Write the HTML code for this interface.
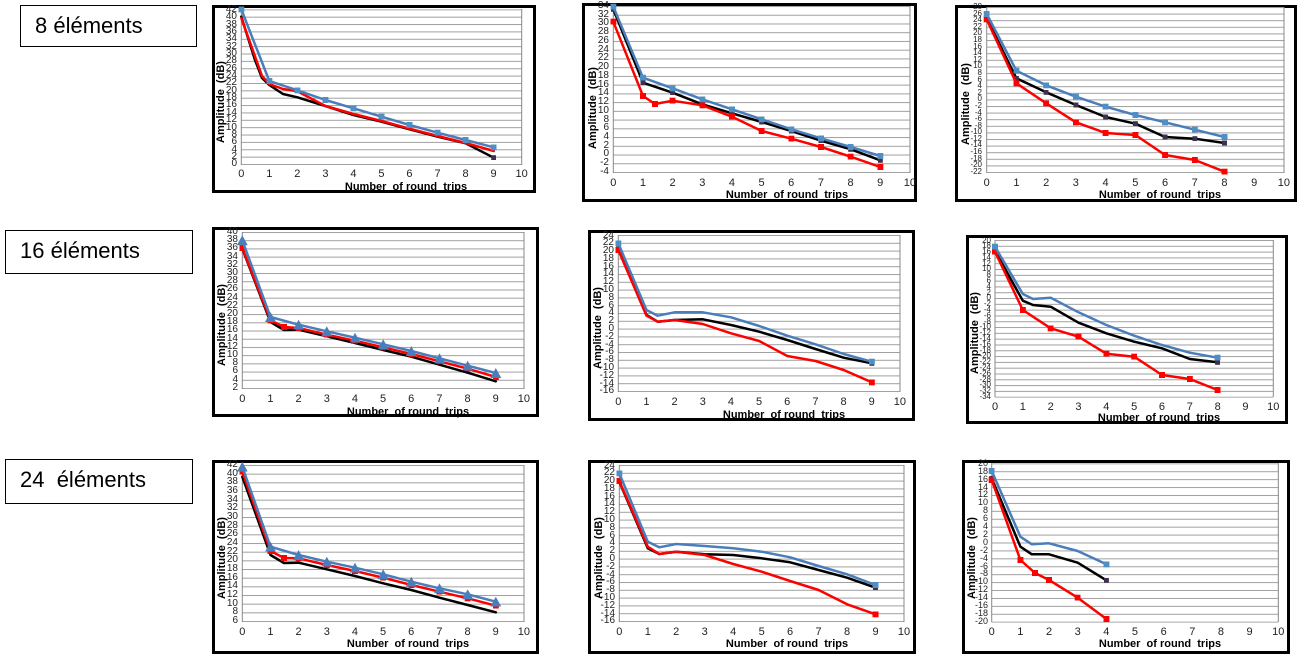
<!DOCTYPE html>
<html><head><meta charset="utf-8"><style>
*{margin:0;padding:0;box-sizing:border-box}
body{width:1300px;height:651px;position:relative;overflow:hidden;background:#fff;font-family:"Liberation Sans",Arial,sans-serif}
.fr{position:absolute;border:3px solid #000}
.lb{position:absolute;border:1.5px solid #000;font-size:22px;line-height:40px;padding-left:14px}
.yl{position:absolute;display:flex;flex-direction:column;justify-content:space-between;text-align:right;font-size:10px;color:#222;width:30px}
.yl span{display:block}
.xl{position:absolute;display:flex;justify-content:space-between;font-size:11px;line-height:12px;color:#222}
.xl span{width:20px;text-align:center}
.xt{position:absolute;width:200px;text-align:center;font-size:11px;font-weight:bold;line-height:12px}
.yt{position:absolute;width:120px;height:14px;line-height:14px;text-align:center;font-size:11px;font-weight:bold;transform:rotate(-90deg)}
svg{position:absolute;left:0;top:0}
</style></head><body>

<div class="lb" style="left:20px;top:5px;width:177px;height:42px">8 éléments</div>
<div class="lb" style="left:5px;top:230px;width:188px;height:44px">16 éléments</div>
<div class="lb" style="left:5px;top:459px;width:188px;height:45px">24&nbsp; éléments</div>

<div class="fr" style="left:212px;top:5px;width:324px;height:188px"></div>
<div class="fr" style="left:582px;top:3px;width:335px;height:199px"></div>
<div class="fr" style="left:955px;top:5px;width:342px;height:197px"></div>
<div class="fr" style="left:212px;top:227px;width:327px;height:190px"></div>
<div class="fr" style="left:588px;top:230px;width:327px;height:191px"></div>
<div class="fr" style="left:966px;top:235px;width:322px;height:189px"></div>
<div class="fr" style="left:212px;top:460px;width:327px;height:194px"></div>
<div class="fr" style="left:588px;top:460px;width:328px;height:194px"></div>
<div class="fr" style="left:962px;top:460px;width:328px;height:194px"></div>

<svg width="1300" height="651" viewBox="0 0 1300 651">
<defs>
<pattern id="p1" patternUnits="userSpaceOnUse" x="0" y="9.3" width="10" height="7.367"><rect width="10" height="1" fill="#a0a0a0"/></pattern>
<pattern id="p2" patternUnits="userSpaceOnUse" x="0" y="6" width="10" height="8.737"><rect width="10" height="1" fill="#a0a0a0"/></pattern>
<pattern id="p3" patternUnits="userSpaceOnUse" x="0" y="7" width="10" height="6.6"><rect width="10" height="1" fill="#a0a0a0"/></pattern>
<pattern id="p4" patternUnits="userSpaceOnUse" x="0" y="232" width="10" height="8.21"><rect width="10" height="1" fill="#a0a0a0"/></pattern>
<pattern id="p5" patternUnits="userSpaceOnUse" x="0" y="235" width="10" height="7.8"><rect width="10" height="1" fill="#a0a0a0"/></pattern>
<pattern id="p6" patternUnits="userSpaceOnUse" x="0" y="240" width="10" height="5.804"><rect width="10" height="1" fill="#a0a0a0"/></pattern>
<pattern id="p7" patternUnits="userSpaceOnUse" x="0" y="465" width="10" height="8.667"><rect width="10" height="1" fill="#a0a0a0"/></pattern>
<pattern id="p8" patternUnits="userSpaceOnUse" x="0" y="465" width="10" height="7.8"><rect width="10" height="1" fill="#a0a0a0"/></pattern>
<pattern id="p9" patternUnits="userSpaceOnUse" x="0" y="463.3" width="10" height="7.92"><rect width="10" height="1" fill="#a0a0a0"/></pattern>
<marker id="mb" markerUnits="userSpaceOnUse" markerWidth="6" markerHeight="6" refX="3" refY="3"><rect width="6" height="6" fill="#4f8fc4"/></marker>
<marker id="mk" markerUnits="userSpaceOnUse" markerWidth="5" markerHeight="5" refX="2.5" refY="2.5"><rect width="5" height="5" fill="#403050"/></marker>
<marker id="mr" markerUnits="userSpaceOnUse" markerWidth="6" markerHeight="6" refX="3" refY="3"><rect width="6" height="6" fill="#ff0000"/></marker>
<marker id="tb" markerUnits="userSpaceOnUse" markerWidth="11" markerHeight="10" refX="5.5" refY="5"><path d="M5.5 0L11 10H0Z" fill="#4a7ebb"/></marker>
</defs>
<rect x="241.3" y="9.3" width="280.4" height="155.7" fill="url(#p1)"/>
<rect x="613.3" y="6" width="296.7" height="167" fill="url(#p2)"/>
<rect x="986.7" y="7" width="297.3" height="166" fill="url(#p3)"/>
<rect x="242.3" y="232" width="281.7" height="157" fill="url(#p4)"/>
<rect x="618.3" y="235" width="281.7" height="157" fill="url(#p5)"/>
<rect x="995" y="240" width="278.3" height="157.7" fill="url(#p6)"/>
<rect x="242.3" y="465" width="281.7" height="157" fill="url(#p7)"/>
<rect x="619.3" y="465" width="284.7" height="157" fill="url(#p8)"/>
<rect x="991.7" y="463.3" width="286.6" height="159.4" fill="url(#p9)"/>
<g stroke="#888" stroke-width="1">
<path d="M241.3 9V165M521.7 9V165"/>
<path d="M613.3 6V173M910 6V173"/>
<path d="M986.7 7V173M1284 7V173"/>
<path d="M242.3 232V389M524 232V389"/>
<path d="M618.3 235V392M900 235V392"/>
<path d="M995 240V397M1273.3 240V397"/>
<path d="M242.3 465V622M524 465V622"/>
<path d="M619.3 465V622M904 465V622"/>
<path d="M991.7 463V622M1278.3 463V622"/>
</g>
<g fill="none" stroke-width="2.5" stroke-linejoin="round" stroke-linecap="round">
<polyline stroke="#000" marker-end="url(#mk)" points="241.3,16.7 255,60 262,78 269.3,85 283,94 297.4,97.3 325.4,106 353.5,115 381.5,121.7 409.5,129.3 437.6,136.7 465.6,143.3 493.7,157.7"/>
<polyline stroke="#f00" points="241.3,18 262,76 269.3,84 283,89 297.4,91.3 325.4,106 353.5,114 381.5,121 409.5,128.7 437.6,136 465.6,143 493.7,151"/>
<polyline stroke="#4a7ebb" marker-start="url(#mb)" marker-mid="url(#mb)" marker-end="url(#mb)" points="241.3,9.3 269.3,81 297.4,90.3 325.4,100 353.5,108.3 381.5,116.7 409.5,125 437.6,132.7 465.6,140 493.7,147.3"/>
<polyline stroke="#000" marker-start="url(#mk)" marker-mid="url(#mk)" marker-end="url(#mk)" points="613.3,9.3 643,82.7 672.6,92.7 702.3,104.3 732,113.3 761.7,122 791.3,131 821,140.7 850.7,149.3 880.3,160.3"/>
<polyline stroke="#f00" marker-start="url(#mr)" marker-mid="url(#mr)" marker-end="url(#mr)" points="613.3,21.7 643,96 655,104 672.6,100.7 702.3,105.3 732,116.7 761.7,131 791.3,138.7 821,147 850.7,156.7 880.3,167"/>
<polyline stroke="#4a7ebb" marker-start="url(#mb)" marker-mid="url(#mb)" marker-end="url(#mb)" points="613.3,6.7 643,77.7 672.6,88.3 702.3,99.3 732,109.3 761.7,119.3 791.3,129.3 821,138.3 850.7,147 880.3,156"/>
<polyline stroke="#000" marker-start="url(#mk)" marker-mid="url(#mk)" marker-end="url(#mk)" points="986.7,18.3 1016.4,78.3 1046.2,92.3 1075.9,105 1105.6,117 1135.4,123.7 1165.1,137 1194.8,138.7 1224.5,143"/>
<polyline stroke="#f00" marker-start="url(#mr)" marker-mid="url(#mr)" marker-end="url(#mr)" points="986.7,19.3 1016.4,83.3 1046.2,103.3 1075.9,122.3 1105.6,133 1135.4,135 1165.1,155 1194.8,160 1224.5,171.7"/>
<polyline stroke="#4a7ebb" marker-start="url(#mb)" marker-mid="url(#mb)" marker-end="url(#mb)" points="986.7,14 1016.4,70.7 1046.2,85.3 1075.9,96.7 1105.6,106.7 1135.4,115 1165.1,122.3 1194.8,129.7 1224.5,137"/>
<polyline stroke="#000" points="242.3,248.7 270.5,322 284,330 298.6,329.7 326.8,336.3 355,343 383.2,350 411.3,356.7 439.5,364.7 467.7,372.7 495.8,381.3"/>
<polyline stroke="#f00" marker-start="url(#mr)" marker-mid="url(#mr)" marker-end="url(#mr)" points="242.3,248 270.5,320.3 284,327 298.6,328 326.8,334.7 355,340.7 383.2,347.3 411.3,354 439.5,361.3 467.7,368.7 495.8,377"/>
<polyline stroke="#4a7ebb" marker-start="url(#tb)" marker-mid="url(#tb)" marker-end="url(#tb)" points="242.3,240.3 270.5,317 298.6,324.7 326.8,331.3 355,337.7 383.2,344.3 411.3,351 439.5,358.3 467.7,365.7 495.8,373"/>
<polyline stroke="#000" marker-start="url(#mk)" marker-end="url(#mk)" points="618.3,244.3 646.5,315 657.7,321.7 674.6,320 702.8,319.3 731,325 759.2,331.7 787.3,340 815.5,349 843.7,357.7 871.8,363.3"/>
<polyline stroke="#f00" marker-start="url(#mr)" marker-end="url(#mr)" points="618.3,250 646.5,315.7 657.7,321.7 674.6,320 702.8,324 731,333.3 759.2,341 787.3,356 815.5,361 843.7,370 871.8,382.3"/>
<polyline stroke="#4a7ebb" marker-start="url(#mb)" marker-end="url(#mb)" points="618.3,243.3 646.5,310 657.7,315.7 674.6,312.3 702.8,312.3 731,317.3 759.2,326 787.3,335.7 815.5,344.3 843.7,354 871.8,361.7"/>
<polyline stroke="#000" marker-start="url(#mk)" marker-end="url(#mk)" points="995,251 1022.8,300.7 1033,305 1050.7,306.7 1078.5,322.7 1106.3,333.3 1134.2,341.7 1162,348.3 1189.8,359 1217.6,362.3"/>
<polyline stroke="#f00" marker-start="url(#mr)" marker-mid="url(#mr)" marker-end="url(#mr)" points="995,251.7 1022.8,310 1050.7,328.3 1078.5,336.7 1106.3,353.7 1134.2,356.7 1162,375 1189.8,379 1217.6,390"/>
<polyline stroke="#4a7ebb" marker-start="url(#mb)" marker-end="url(#mb)" points="995,246.7 1022.8,294 1033,299 1050.7,297.7 1078.5,312.3 1106.3,325 1134.2,335.7 1162,345 1189.8,352.7 1217.6,357.7"/>
<polyline stroke="#000" points="242.3,476.7 270.5,555 284,563 298.6,562.7 326.8,569.3 355,576 383.2,583.3 411.3,590 439.5,597.7 467.7,605 495.8,612.3"/>
<polyline stroke="#f00" marker-start="url(#mr)" marker-mid="url(#mr)" marker-end="url(#mr)" points="242.3,471.7 270.5,551 284,558 298.6,558.3 326.8,565 355,571 383.2,577.7 411.3,585 439.5,591.7 467.7,598.3 495.8,605.7"/>
<polyline stroke="#4a7ebb" marker-start="url(#tb)" marker-mid="url(#tb)" marker-end="url(#tb)" points="242.3,466.7 270.5,546.7 298.6,555 326.8,561.7 355,567.7 383.2,574.3 411.3,581.7 439.5,588.3 467.7,594.3 495.8,601.7"/>
<polyline stroke="#000" marker-start="url(#mk)" marker-end="url(#mk)" points="619.3,481.7 647.8,548.3 659.2,554 676.2,551.7 704.7,554.3 733.2,555 761.7,558.3 790.1,562.3 818.6,570 847.1,577.7 875.5,587.7"/>
<polyline stroke="#f00" marker-start="url(#mr)" marker-end="url(#mr)" points="619.3,481 647.8,546.7 659.2,554 676.2,551.7 704.7,555 733.2,564 761.7,571.7 790.1,581 818.6,590 847.1,604.3 875.5,614.3"/>
<polyline stroke="#4a7ebb" marker-start="url(#mb)" marker-end="url(#mb)" points="619.3,473.3 647.8,541.7 659.2,547.3 676.2,544 704.7,546 733.2,548.3 761.7,551.7 790.1,557.3 818.6,566 847.1,574.3 875.5,585"/>
<polyline stroke="#000" marker-start="url(#mk)" marker-end="url(#mk)" points="991.7,478.3 1020.4,546.7 1031.8,554.3 1049,554.3 1077.7,562.7 1106.4,580.3"/>
<polyline stroke="#f00" marker-start="url(#mr)" marker-mid="url(#mr)" marker-end="url(#mr)" points="991.7,480 1020.4,560 1035,573 1049,580 1077.7,597.7 1106.4,619"/>
<polyline stroke="#4a7ebb" marker-start="url(#mb)" marker-end="url(#mb)" points="991.7,471 1020.4,536.7 1031.8,544.3 1049,543.3 1077.7,551 1106.4,564.3"/>
</g>
</svg>

<div class="yl" style="left:207px;top:5.8px;height:161.7px;line-height:7px"><span>42</span><span>40</span><span>38</span><span>36</span><span>34</span><span>32</span><span>30</span><span>28</span><span>26</span><span>24</span><span>22</span><span>20</span><span>18</span><span>16</span><span>14</span><span>12</span><span>10</span><span>8</span><span>6</span><span>4</span><span>2</span><span>0</span></div>
<div class="xl" style="left:231.3px;top:168px;width:300.4px"><span>0</span><span>1</span><span>2</span><span>3</span><span>4</span><span>5</span><span>6</span><span>7</span><span>8</span><span>9</span><span>10</span></div>
<div class="xt" style="left:306px;top:181px">Number&nbsp; of round&nbsp; trips</div>
<div class="yt" style="left:161px;top:95px">Amplitude&nbsp; (dB)</div>

<div class="yl" style="left:579px;top:2px;height:174px;line-height:8px"><span>34</span><span>32</span><span>30</span><span>28</span><span>26</span><span>24</span><span>22</span><span>20</span><span>18</span><span>16</span><span>14</span><span>12</span><span>10</span><span>8</span><span>6</span><span>4</span><span>2</span><span>0</span><span>-2</span><span>-4</span></div>
<div class="xl" style="left:603.3px;top:177px;width:316.7px"><span>0</span><span>1</span><span>2</span><span>3</span><span>4</span><span>5</span><span>6</span><span>7</span><span>8</span><span>9</span><span>10</span></div>
<div class="xt" style="left:687px;top:189px">Number&nbsp; of round&nbsp; trips</div>
<div class="yt" style="left:533px;top:101px">Amplitude&nbsp; (dB)</div>

<div class="yl" style="left:952px;top:4px;height:171px;line-height:6px;font-size:8px"><span>28</span><span>26</span><span>24</span><span>22</span><span>20</span><span>18</span><span>16</span><span>14</span><span>12</span><span>10</span><span>8</span><span>6</span><span>4</span><span>2</span><span>0</span><span>-2</span><span>-4</span><span>-6</span><span>-8</span><span>-10</span><span>-12</span><span>-14</span><span>-16</span><span>-18</span><span>-20</span><span>-22</span></div>
<div class="xl" style="left:976.7px;top:177px;width:317.3px"><span>0</span><span>1</span><span>2</span><span>3</span><span>4</span><span>5</span><span>6</span><span>7</span><span>8</span><span>9</span><span>10</span></div>
<div class="xt" style="left:1060px;top:189px">Number&nbsp; of round&nbsp; trips</div>
<div class="yt" style="left:906px;top:97px">Amplitude&nbsp; (dB)</div>

<div class="yl" style="left:208px;top:228px;height:164px;line-height:8px"><span>40</span><span>38</span><span>36</span><span>34</span><span>32</span><span>30</span><span>28</span><span>26</span><span>24</span><span>22</span><span>20</span><span>18</span><span>16</span><span>14</span><span>12</span><span>10</span><span>8</span><span>6</span><span>4</span><span>2</span></div>
<div class="xl" style="left:232.3px;top:393px;width:301.7px"><span>0</span><span>1</span><span>2</span><span>3</span><span>4</span><span>5</span><span>6</span><span>7</span><span>8</span><span>9</span><span>10</span></div>
<div class="xt" style="left:308px;top:406px">Number&nbsp; of round&nbsp; trips</div>
<div class="yt" style="left:162px;top:318px">Amplitude&nbsp; (dB)</div>

<div class="yl" style="left:584px;top:231.5px;height:163px;line-height:7px"><span>24</span><span>22</span><span>20</span><span>18</span><span>16</span><span>14</span><span>12</span><span>10</span><span>8</span><span>6</span><span>4</span><span>2</span><span>0</span><span>-2</span><span>-4</span><span>-6</span><span>-8</span><span>-10</span><span>-12</span><span>-14</span><span>-16</span></div>
<div class="xl" style="left:608.3px;top:396px;width:301.7px"><span>0</span><span>1</span><span>2</span><span>3</span><span>4</span><span>5</span><span>6</span><span>7</span><span>8</span><span>9</span><span>10</span></div>
<div class="xt" style="left:684px;top:409px">Number&nbsp; of round&nbsp; trips</div>
<div class="yt" style="left:538px;top:321px">Amplitude&nbsp; (dB)</div>

<div class="yl" style="left:961px;top:237.5px;height:161.7px;line-height:5px;font-size:8px"><span>20</span><span>18</span><span>16</span><span>14</span><span>12</span><span>10</span><span>8</span><span>6</span><span>4</span><span>2</span><span>0</span><span>-2</span><span>-4</span><span>-6</span><span>-8</span><span>-10</span><span>-12</span><span>-14</span><span>-16</span><span>-18</span><span>-20</span><span>-22</span><span>-24</span><span>-26</span><span>-28</span><span>-30</span><span>-32</span><span>-34</span></div>
<div class="xl" style="left:985px;top:401px;width:298.3px"><span>0</span><span>1</span><span>2</span><span>3</span><span>4</span><span>5</span><span>6</span><span>7</span><span>8</span><span>9</span><span>10</span></div>
<div class="xt" style="left:1059px;top:412px">Number&nbsp; of round&nbsp; trips</div>
<div class="yt" style="left:915px;top:326px">Amplitude&nbsp; (dB)</div>

<div class="yl" style="left:208px;top:461px;height:164px;line-height:8px"><span>42</span><span>40</span><span>38</span><span>36</span><span>34</span><span>32</span><span>30</span><span>28</span><span>26</span><span>24</span><span>22</span><span>20</span><span>18</span><span>16</span><span>14</span><span>12</span><span>10</span><span>8</span><span>6</span></div>
<div class="xl" style="left:232.3px;top:626px;width:301.7px"><span>0</span><span>1</span><span>2</span><span>3</span><span>4</span><span>5</span><span>6</span><span>7</span><span>8</span><span>9</span><span>10</span></div>
<div class="xt" style="left:308px;top:638px">Number&nbsp; of round&nbsp; trips</div>
<div class="yt" style="left:162px;top:551px">Amplitude&nbsp; (dB)</div>

<div class="yl" style="left:585px;top:461.5px;height:163px;line-height:7px"><span>24</span><span>22</span><span>20</span><span>18</span><span>16</span><span>14</span><span>12</span><span>10</span><span>8</span><span>6</span><span>4</span><span>2</span><span>0</span><span>-2</span><span>-4</span><span>-6</span><span>-8</span><span>-10</span><span>-12</span><span>-14</span><span>-16</span></div>
<div class="xl" style="left:609.3px;top:626px;width:304.7px"><span>0</span><span>1</span><span>2</span><span>3</span><span>4</span><span>5</span><span>6</span><span>7</span><span>8</span><span>9</span><span>10</span></div>
<div class="xt" style="left:687px;top:638px">Number&nbsp; of round&nbsp; trips</div>
<div class="yt" style="left:539px;top:551px">Amplitude&nbsp; (dB)</div>

<div class="yl" style="left:958px;top:459.8px;height:165.4px;line-height:7px;font-size:9px"><span>20</span><span>18</span><span>16</span><span>14</span><span>12</span><span>10</span><span>8</span><span>6</span><span>4</span><span>2</span><span>0</span><span>-2</span><span>-4</span><span>-6</span><span>-8</span><span>-10</span><span>-12</span><span>-14</span><span>-16</span><span>-18</span><span>-20</span></div>
<div class="xl" style="left:981.7px;top:626px;width:306.6px"><span>0</span><span>1</span><span>2</span><span>3</span><span>4</span><span>5</span><span>6</span><span>7</span><span>8</span><span>9</span><span>10</span></div>
<div class="xt" style="left:1060px;top:638px">Number&nbsp; of round&nbsp; trips</div>
<div class="yt" style="left:912px;top:551px">Amplitude&nbsp; (dB)</div>

</body></html>
